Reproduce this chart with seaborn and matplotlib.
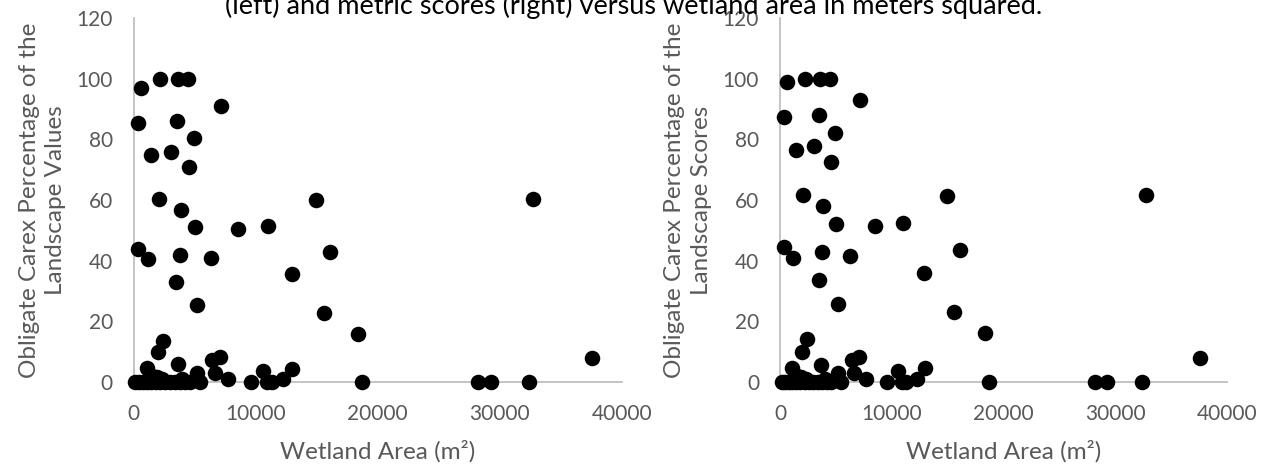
import matplotlib
matplotlib.use("Agg")
import matplotlib.pyplot as plt
import pandas as pd
import seaborn as sns

# ---- data ----
wetland_area = [600, 2200, 3600, 4450, 7200, 350, 3540, 4970, 1450, 3080,
                4540, 2060, 3840, 14980, 5000, 8520, 11020, 340, 1170, 3770,
                6300, 16100, 3490, 12940, 5220, 15580, 18400, 2400, 1980, 1060,
                3640, 6440, 7080, 6650, 5180, 7700, 10600, 12250, 13000, 18750,
                9600, 10900, 11300, 5450, 28200, 29300, 32400, 32750, 37600,
                150, 450, 800, 1100, 1400, 1800, 2200, 2600, 3000, 3400,
                3800, 4200, 4600, 1500, 1900, 2300, 4000]
landscape_values = [97, 100, 100, 100, 91, 85.5, 86, 80.5, 75, 76,
                    71, 60.3, 56.7, 60, 51, 50.3, 51.5, 43.7, 40.5, 42,
                    40.7, 42.8, 33, 35.5, 25.2, 22.8, 15.8, 13.6, 9.7, 4.5,
                    5.7, 7.2, 8.2, 3.0, 3.0, 1.0, 3.5, 0.8, 4.3, 0,
                    0, 0, 0, 0, 0, 0, 0, 60.2, 7.7,
                    0, 0, 0, 0, 0, 0, 0, 0, 0, 0,
                    0, 0, 0, 2.0, 1.5, 0.8, 0.8]
landscape_scores = [99, 100, 100, 100, 93, 87.5, 88, 82, 76.5, 78,
                    72.5, 61.7, 58, 61.2, 52, 51.3, 52.5, 44.6, 41, 42.8,
                    41.5, 43.6, 33.5, 36, 25.6, 23, 16, 14, 9.7, 4.6,
                    5.6, 7.2, 8.0, 3.0, 3.0, 1.0, 3.4, 1.0, 4.4, 0,
                    0, 0, 0, 0, 0, 0, 0, 61.5, 7.7,
                    0, 0, 0, 0, 0, 0, 0, 0, 0, 0,
                    0, 0, 0, 2.0, 1.5, 0.8, 0.8]
x_ticks = [0, 10000, 20000, 30000, 40000]
y_ticks = [0, 20, 40, 60, 80, 100, 120]

title_text = "(left) and metric scores (right) versus wetland area in meters squared."
x_label = "Wetland Area (m\u00b2)"
y_label_left = "Obligate Carex Percentage of the\nLandscape Values"
y_label_right = "Obligate Carex Percentage of the\nLandscape Scores"

df = pd.DataFrame({"area": wetland_area,
                   "values": landscape_values,
                   "scores": landscape_scores})

sns.set_theme(style="white")
plt.rcParams['font.family'] = ['Lato', 'DejaVu Sans']

GRAY = "#595959"
SPINE = "#BFBFBF"

fig = plt.figure(figsize=(12.68, 4.70), dpi=100)
ax1 = fig.add_axes([0.1054, 0.1879, 0.3849, 0.773])
ax2 = fig.add_axes([0.6151, 0.1879, 0.3523, 0.773])

for ax, col, ylab, ylx in [(ax1, "values", y_label_left, -0.138),
                           (ax2, "scores", y_label_right, -0.153)]:
    sns.scatterplot(data=df, x="area", y=col, ax=ax, color="black",
                    s=125, linewidth=0, clip_on=False, zorder=3)
    ax.set_xlim(0, 40000)
    ax.set_ylim(0, 120)
    ax.set_xticks(x_ticks)
    ax.set_yticks(y_ticks)
    for sp in ["top", "right"]:
        ax.spines[sp].set_visible(False)
    for sp in ["left", "bottom"]:
        ax.spines[sp].set_color(SPINE)
        ax.spines[sp].set_linewidth(1.3)
        ax.spines[sp].set_zorder(1)
    ax.tick_params(axis="both", length=0, labelsize=15, labelcolor=GRAY)
    ax.tick_params(axis="x", pad=16)
    ax.tick_params(axis="y", pad=15)
    ax.set_xlabel(x_label, fontsize=17.5, color=GRAY)
    ax.set_ylabel(ylab, fontsize=17.5, color=GRAY, linespacing=1.3)
    ax.xaxis.set_label_coords(0.5, -0.16)
    ax.yaxis.set_label_coords(ylx, 0.5)
    ax.grid(False)

fig.text(0.5, 1 - 14 / 470, title_text, ha="center", va="baseline",
         fontsize=19.5, color="black")

fig.savefig("out.png", dpi=100)
